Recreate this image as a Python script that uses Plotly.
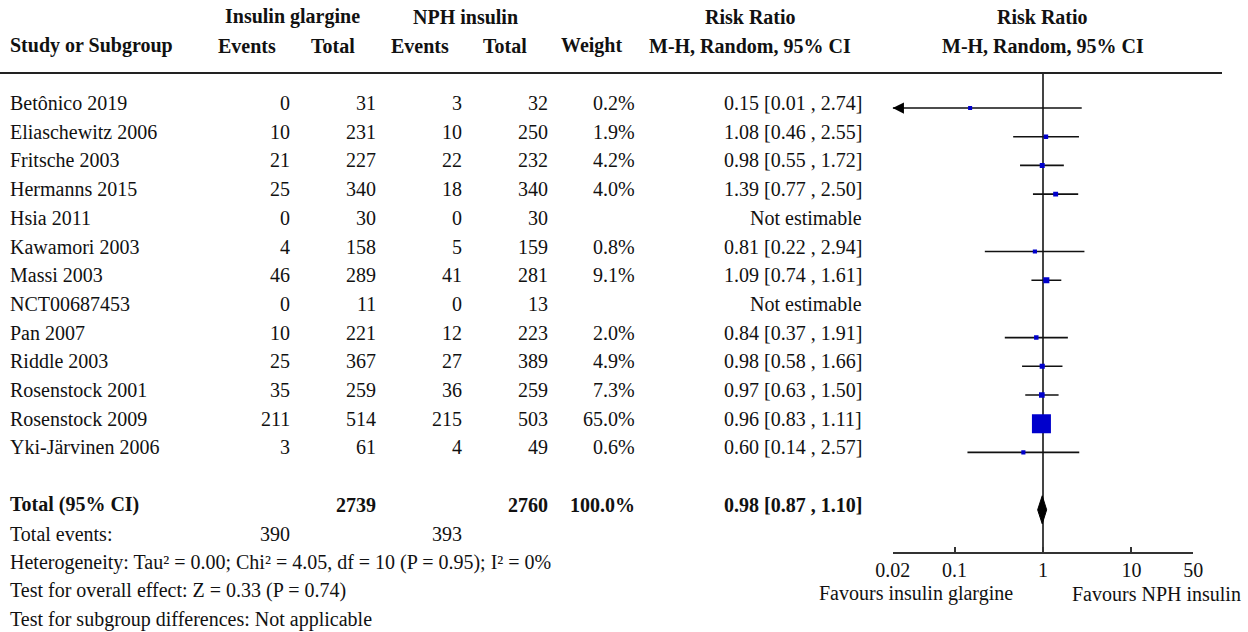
import math
import plotly.graph_objects as go

# ---- study data -------------------------------------------------------------
studies = ["Betônico 2019", "Eliaschewitz 2006", "Fritsche 2003", "Hermanns 2015",
           "Hsia 2011", "Kawamori 2003", "Massi 2003", "NCT00687453", "Pan 2007",
           "Riddle 2003", "Rosenstock 2001", "Rosenstock 2009", "Yki-Järvinen 2006"]
glargine_events = [0, 10, 21, 25, 0, 4, 46, 0, 10, 25, 35, 211, 3]
glargine_total = [31, 231, 227, 340, 30, 158, 289, 11, 221, 367, 259, 514, 61]
nph_events = [3, 10, 22, 18, 0, 5, 41, 0, 12, 27, 36, 215, 4]
nph_total = [32, 250, 232, 340, 30, 159, 281, 13, 223, 389, 259, 503, 49]
weight_pct = [0.2, 1.9, 4.2, 4.0, None, 0.8, 9.1, None, 2.0, 4.9, 7.3, 65.0, 0.6]
risk_ratio = [0.15, 1.08, 0.98, 1.39, None, 0.81, 1.09, None, 0.84, 0.98, 0.97, 0.96, 0.60]
ci_low = [0.01, 0.46, 0.55, 0.77, None, 0.22, 0.74, None, 0.37, 0.58, 0.63, 0.83, 0.14]
ci_high = [2.74, 2.55, 1.72, 2.50, None, 2.94, 1.61, None, 1.91, 1.66, 1.50, 1.11, 2.57]

pooled_rr = 0.98
pooled_low = 0.87
pooled_high = 1.10
pooled_weight = 100.0

heterogeneity = "Heterogeneity: Tau² = 0.00; Chi² = 4.05, df = 10 (P = 0.95); I² = 0%"
overall_effect = "Test for overall effect: Z = 0.33 (P = 0.74)"
subgroup_diff = "Test for subgroup differences: Not applicable"

axis_ticks = [0.02, 0.1, 1, 10, 50]
axis_ticktext = ["0.02", "0.1", "1", "10", "50"]
favours_left = "Favours insulin glargine"
favours_right = "Favours NPH insulin"

# ---- layout constants -------------------------------------------------------
W, H = 1248, 632
ROW0_PX, ROW_PX = 108.0, 28.7          # pixel centre of first study row, row pitch
FONT = "Liberation Serif, Times New Roman, serif"
FS = 20
TXT = "#111111"
AX_MIN, AX_MAX = axis_ticks[0], axis_ticks[-1]
TOTAL_ROW = 14
TOP_RULE_ROW = -1.22
AXIS_ROW = 15.495

def px(x):
    return x / W

annotations = []

def txt(x, row, s, anchor="left", bold=False, shift=5):
    annotations.append(dict(
        x=px(x), xref="paper", y=row, yref="y", text=f"<b>{s}</b>" if bold else s,
        xanchor=anchor, yanchor="middle", yshift=shift, showarrow=False,
        font=dict(family=FONT, size=FS, color=TXT)))

# header
txt(292, -3, "Insulin glargine", "center", True)
txt(465, -3, "NPH insulin", "center", True)
txt(750, -3, "Risk Ratio", "center", True)
txt(1042.5, -3, "Risk Ratio", "center", True)
txt(8, -2, "Study or Subgroup", "left", True)
txt(278, -2, "Events", "right", True)
txt(357, -2, "Total", "right", True)
txt(451, -2, "Events", "right", True)
txt(529, -2, "Total", "right", True)
txt(624, -2, "Weight", "right", True)
txt(750, -2, "M-H, Random, 95% CI", "center", True)
txt(1042.5, -2, "M-H, Random, 95% CI", "center", True)

# study rows
for i, name in enumerate(studies):
    txt(8, i, name)
    txt(292, i, str(glargine_events[i]), "right")
    txt(378, i, str(glargine_total[i]), "right")
    txt(464, i, str(nph_events[i]), "right")
    txt(550, i, str(nph_total[i]), "right")
    if weight_pct[i] is not None:
        txt(637, i, f"{weight_pct[i]:.1f}%", "right")
    if risk_ratio[i] is None:
        txt(864, i, "Not estimable", "right")
    else:
        txt(864, i, f"{risk_ratio[i]:.2f} [{ci_low[i]:.2f} , {ci_high[i]:.2f}]", "right")

# totals and footer
txt(8, TOTAL_ROW, "Total (95% CI)", "left", True)
txt(378, TOTAL_ROW, str(sum(glargine_total)), "right", True)
txt(550, TOTAL_ROW, str(sum(nph_total)), "right", True)
txt(637, TOTAL_ROW, f"{pooled_weight:.1f}%", "right", True)
txt(864, TOTAL_ROW, f"{pooled_rr:.2f} [{pooled_low:.2f} , {pooled_high:.2f}]", "right", True)
txt(8, TOTAL_ROW + 1, "Total events:")
txt(292, TOTAL_ROW + 1, str(sum(glargine_events)), "right")
txt(464, TOTAL_ROW + 1, str(sum(nph_events)), "right")
txt(8, TOTAL_ROW + 2, heterogeneity)
txt(8, TOTAL_ROW + 3, overall_effect)
txt(8, TOTAL_ROW + 4, subgroup_diff)
txt(916, TOTAL_ROW + 3, favours_left, "center", shift=2)
txt(1156, TOTAL_ROW + 3, favours_right, "center", shift=2)

fig = go.Figure()

# line of no effect
fig.add_trace(go.Scatter(x=[1, 1], y=[TOP_RULE_ROW, AXIS_ROW], mode="lines",
                         line=dict(color="#444444", width=2), hoverinfo="skip"))

# confidence interval whiskers (clipped at the axis limits)
cx, cy = [], []
for i in range(len(studies)):
    if risk_ratio[i] is None:
        continue
    lo = max(ci_low[i], AX_MIN)
    hi = min(ci_high[i], AX_MAX)
    cx += [lo, hi, None]
    cy += [i, i, None]
    if ci_low[i] < AX_MIN:
        annotations.append(dict(x=math.log10(AX_MIN), y=i, xref="x", yref="y",
                                ax=10, ay=0, text="", showarrow=True, arrowhead=2,
                                arrowsize=1.5, arrowwidth=1.5, arrowcolor="#000000"))
fig.add_trace(go.Scatter(x=cx, y=cy, mode="lines",
                         line=dict(color="#111111", width=1.6), hoverinfo="skip"))

# point estimates, square area scaled by weight
mx, my, ms = [], [], []
for i in range(len(studies)):
    if risk_ratio[i] is None:
        continue
    mx.append(risk_ratio[i])
    my.append(i)
    ms.append(4 + 15 * weight_pct[i] / 65.0)
fig.add_trace(go.Scatter(x=mx, y=my, mode="markers",
                         marker=dict(symbol="square", size=ms, color="#0000CC",
                                     opacity=1, line=dict(width=0)),
                         hoverinfo="skip"))

# pooled estimate diamond
fig.add_trace(go.Scatter(
    x=[pooled_low, pooled_rr, pooled_high, pooled_rr, pooled_low],
    y=[TOTAL_ROW, TOTAL_ROW - 0.49, TOTAL_ROW, TOTAL_ROW + 0.49, TOTAL_ROW],
    mode="lines", fill="toself", fillcolor="#000000",
    line=dict(color="#000000", width=1), hoverinfo="skip"))

fig.update_layout(
    width=W, height=H, margin=dict(l=0, r=0, t=0, b=0, pad=0, autoexpand=False),
    paper_bgcolor="white", plot_bgcolor="white", showlegend=False,
    hovermode=False, annotations=annotations,
    shapes=[dict(type="line", xref="paper", yref="y", x0=0, x1=px(1222),
                 y0=TOP_RULE_ROW, y1=TOP_RULE_ROW,
                 line=dict(color="#222222", width=2))],
    xaxis=dict(type="log", range=[math.log10(AX_MIN), math.log10(AX_MAX)],
               domain=[px(892.7), px(1193.3)], anchor="free",
               position=(H - (ROW0_PX + AXIS_ROW * ROW_PX)) / H,
               showline=True, linecolor="#333333", linewidth=1.5,
               ticks="inside", ticklen=5, tickwidth=1.5, tickcolor="#333333",
               tickvals=axis_ticks, ticktext=axis_ticktext,
               tickfont=dict(family=FONT, size=FS, color=TXT),
               showgrid=False, zeroline=False, automargin=False),
    yaxis=dict(range=[(H - ROW0_PX) / ROW_PX, -ROW0_PX / ROW_PX], domain=[0, 1],
               visible=False, showgrid=False, zeroline=False, automargin=False),
)

fig.write_html("out.html")
